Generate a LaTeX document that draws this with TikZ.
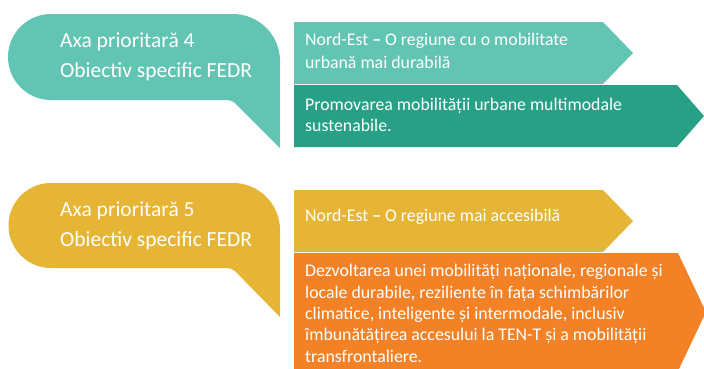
\documentclass[tikz,border=0pt]{standalone}
\usepackage{fontspec}
\setmainfont{Carlito}
\definecolor{tealsoft}{HTML}{62C4B3}
\definecolor{tealdeep}{HTML}{28A086}
\definecolor{mustard}{HTML}{E6B536}
\definecolor{orangehot}{HTML}{F38227}

\begin{document}
\begin{tikzpicture}[x=1pt, y=1pt,
  bubtext/.style={text=white, align=left, anchor=base west, inner sep=0pt, font=\fontsize{21.5}{30}\selectfont},
  bartext/.style={text=white, align=left, anchor=base west, inner sep=0pt, font=\fontsize{17.8}{21.3}\selectfont}
]
  \useasboundingbox (0,0) rectangle (704,-368);
  \clip (0,0) rectangle (704,-368);

  % Callouts
  \fill[tealsoft] (51,-100) arc[start angle=270, end angle=90, radius=43]
    -- (233,-14) arc[start angle=90, end angle=0, radius=47]
    -- (280,-148) [rounded corners=5pt] -- (232,-100) [sharp corners] -- cycle;
  \fill[mustard] (51,-268) arc[start angle=270, end angle=90, radius=42.5]
    -- (233,-183) arc[start angle=90, end angle=0, radius=47]
    -- (280,-317) [rounded corners=5pt] -- (232,-268) [sharp corners] -- cycle;

  % Chevron bars
  \fill[tealsoft] (294,-22) -- (603,-22) -- (633,-53) -- (603,-84) -- (294,-84) -- cycle;
  \fill[tealdeep] (294,-85) -- (677,-85) -- (704,-116) -- (677,-147) -- (294,-147) -- cycle;
  \fill[mustard] (294,-190) -- (603,-190) -- (633,-221) -- (603,-252) -- (294,-252) -- cycle;
  \fill[orangehot] (294,-253) -- (678,-253) -- (706,-312) -- (678,-371) -- (294,-371) -- cycle;

  % Texts (anchored at the baseline of their last line)
  \node[bubtext] (axa4) at (60,-77) {Axa prioritară 4\\Obiectiv specific FEDR};
  \node[bubtext] (axa5) at (60,-246) {Axa prioritară 5\\Obiectiv specific FEDR};
  \node[bartext, font=\fontsize{17.8}{22.3}\selectfont] (reg4) at (305,-68) {Nord-Est \textbf{–} O regiune cu o mobilitate\\urbană mai durabilă};
  \node[bartext, font=\fontsize{17.8}{20.7}\selectfont] (obj4) at (305,-131) {Promovarea mobilității urbane multimodale\\sustenabile.};
  \node[bartext] (reg5) at (305,-221) {Nord-Est \textbf{–} O regiune mai accesibilă};
  \node[bartext] (obj5) at (305,-362) {Dezvoltarea unei mobilități naționale, regionale și\\
    locale durabile, reziliente în fața schimbărilor\\
    climatice, inteligente și intermodale, inclusiv\\
    îmbunătățirea accesului la TEN-T și a mobilității\\
    transfrontaliere.};
\end{tikzpicture}
\end{document}
